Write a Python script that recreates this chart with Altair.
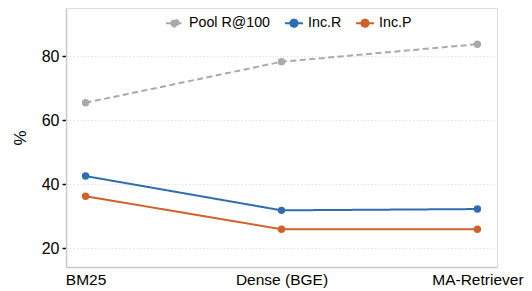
import altair as alt
import pandas as pd

methods = ["BM25", "Dense (BGE)", "MA-Retriever"]
series = ["Pool R@100", "Inc.R", "Inc.P"]
pool_r100 = [65.4, 78.2, 83.7]
inc_r = [42.5, 31.8, 32.2]
inc_p = [36.2, 25.9, 25.9]
colors = ["#aaaaaa", "#2e6db0", "#d0612a"]
dashes = [[6, 3.5], [1, 0], [1, 0]]

rows = []
for name, vals in zip(series, [pool_r100, inc_r, inc_p]):
    for m, v in zip(methods, vals):
        rows.append({"method": m, "series": name, "value": v})
df = pd.DataFrame(rows)

x = alt.X("method:N", sort=methods, title=None,
          scale=alt.Scale(type="point", padding=0.1),
          axis=alt.Axis(labelAngle=0, ticks=False, grid=False, labelPadding=5,
                        labelFontSize=15.5, labelColor="#000000",
                        domainColor="#c8c8c8", domainWidth=1.5))
y = alt.Y("value:Q", title="%",
          scale=alt.Scale(domain=[14.1, 95], nice=False, zero=False),
          axis=alt.Axis(values=[20, 40, 60, 80], tickSize=4, tickColor="#000000",
                        tickWidth=1.5, labelFontSize=16, labelColor="#000000",
                        labelPadding=3, domainColor="#c8c8c8", domainWidth=1.5,
                        gridColor="#e4e4e4", gridDash=[1.5, 2], gridWidth=1,
                        titleFontSize=17, titleFontWeight="normal",
                        titleColor="#000000", titlePadding=12))
color = alt.Color("series:N", scale=alt.Scale(domain=series, range=colors),
                  legend=alt.Legend(title=None, orient="none", direction="horizontal",
                                    legendX=99, legendY=5,
                                    symbolType="M-1,0L1,0M-0.4,0A0.4,0.4,0,1,0,0.4,0A0.4,0.4,0,1,0,-0.4,0Z",
                                    symbolSize=324, symbolStrokeWidth=2,
                                    labelFontSize=14.25, labelColor="#000000",
                                    columnPadding=10, symbolOffset=0, labelOffset=4))

base = alt.Chart(df)
lines = base.mark_line(strokeWidth=2).encode(
    x=x, y=y, color=color,
    strokeDash=alt.StrokeDash("series:N", scale=alt.Scale(domain=series, range=dashes), legend=None),
)
points = base.mark_point(filled=True, size=55, opacity=1).encode(x=x, y=y, color=color)

chart = alt.layer(lines, points).properties(
    width=431, height=259,
    autosize=alt.AutoSizeParams(type="none"),
    padding={"left": 58, "top": 0, "right": 27, "bottom": 24},
).configure_view(stroke="#c8c8c8", strokeWidth=1.5).configure(
    font="Liberation Sans"
)

chart.save("out.html", embed_options={"renderer": "svg", "actions": False})
